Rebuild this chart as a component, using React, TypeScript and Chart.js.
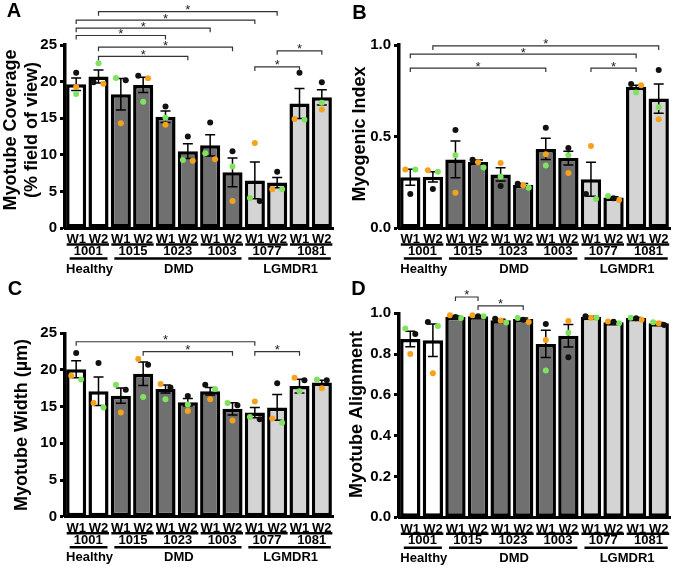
import React, { useEffect, useRef } from 'react';
import { Chart, registerables } from 'chart.js';

Chart.register(...registerables);

// ---------- shared categories ----------
const barLabels = ['W1', 'W2', 'W1', 'W2', 'W1', 'W2', 'W1', 'W2', 'W1', 'W2', 'W1', 'W2'];
const patientIds = ['1001', '1015', '1023', '1003', '1077', '1081'];
const groupNames = ['Healthy', 'DMD', 'LGMDR1'];
const groupPatientCounts = [1, 3, 2];

// ---------- A: Myotube Coverage ----------
const coverageMean = [19.63, 20.7, 18.26, 19.55, 15.2, 10.5, 11.3, 7.6, 6.5, 6.2, 17.0, 17.85];
const coverageSem = [0.85, 0.88, 2.15, 1.05, 0.78, 1.0, 1.45, 1.95, 2.5, 0.7, 2.05, 1.05];
const coverageBlack = [21.2, 19.9, 20.2, 20.8, 16.6, 12.5, 14.4, 10.5, 3.7, 7.7, 21.2, 19.9];
const coverageOrange = [19.26, 19.7, 14.3, 20.45, 14.1, 9.2, 9.4, 3.7, 11.6, 5.3, 14.9, 16.2];
const coverageGreen = [18.3, 22.5, 20.5, 17.25, 15.07, 9.3, 10.2, 8.4, 4.1, 5.3, 14.8, 17.1];
const coverageBrackets: [number, number, number][] = [
  [1, 9, 29.55], [0, 8, 28.4], [0, 6, 27.3], [0, 4, 26.3],
  [1, 7, 24.7], [1, 5, 23.45], [9, 11, 24.2], [8, 10, 22.0],
];

// ---------- B: Myogenic Index ----------
const myogenicMean = [0.277, 0.28, 0.375, 0.36, 0.293, 0.237, 0.432, 0.382, 0.266, 0.166, 0.772, 0.707];
const myogenicSem = [0.044, 0.028, 0.1, 0.012, 0.036, 0.006, 0.058, 0.038, 0.093, 0.005, 0.008, 0.08];
const myogenicBlack = [0.186, 0.213, 0.535, 0.373, 0.23, 0.242, 0.548, 0.437, 0.186, 0.162, 0.787, 0.863];
const myogenicOrange = [0.32, 0.315, 0.193, 0.359, 0.355, 0.233, 0.403, 0.3, 0.448, 0.153, 0.78, 0.594];
const myogenicGreen = [0.32, 0.308, 0.397, 0.33, 0.28, 0.22, 0.342, 0.397, 0.158, 0.175, 0.741, 0.66];
const myogenicBrackets: [number, number, number][] = [
  [1, 11, 0.995], [0, 10, 0.95], [0, 6, 0.874], [8, 10, 0.874],
];

// ---------- C: Myotube Width ----------
const widthMean = [20.1, 17.1, 16.5, 19.5, 17.4, 15.6, 17.1, 14.7, 14.2, 14.9, 17.8, 18.3];
const widthSem = [1.15, 1.95, 1.05, 1.6, 0.55, 0.5, 0.5, 0.85, 0.7, 1.75, 0.95, 0.3];
const widthBlack = [22.3, 20.95, 17.3, 20.7, 17.6, 16.45, 18.0, 15.2, 13.3, 18.2, 18.6, 18.6];
const widthOrange = [19.2, 15.5, 14.2, 21.5, 18.1, 14.4, 16.0, 13.1, 15.7, 13.4, 18.95, 17.5];
const widthGreen = [18.7, 14.9, 18.0, 16.3, 16.0, 15.3, 17.4, 15.5, 13.6, 12.8, 17.1, 18.7];
const widthBrackets: [number, number, number][] = [
  [0, 8, 23.85], [3, 7, 22.5], [8, 10, 22.5],
];

// ---------- D: Myotube Alignment ----------
const alignMean = [0.874, 0.868, 0.983, 0.985, 0.966, 0.972, 0.85, 0.89, 0.983, 0.956, 0.977, 0.951];
const alignSem = [0.038, 0.08, 0.004, 0.002, 0.005, 0.005, 0.067, 0.055, 0.002, 0.003, 0.003, 0.004];
const alignBlack = [0.899, 0.957, 0.982, 0.986, 0.973, 0.968, 0.948, 0.784, 0.985, 0.958, 0.976, 0.943];
const alignOrange = [0.8, 0.706, 0.99, 0.99, 0.965, 0.957, 0.869, 0.962, 0.978, 0.96, 0.968, 0.951];
const alignGreen = [0.926, 0.938, 0.977, 0.985, 0.955, 0.977, 0.719, 0.905, 0.978, 0.951, 0.978, 0.956];
const alignBrackets: [number, number, number][] = [
  [2, 3, 1.08], [3, 5, 1.036],
];

// ---------- styles ----------
const FONT = 'Arial, "Liberation Sans", Helvetica, sans-serif';
const groupFills = ['#ffffff', '#707070', '#d4d4d4'];
const dotColors = ['#111111', '#f7a21b', '#7fe35f'];

type Box = { left: number; top: number; width: number; height: number };
type Area = { left: number; right: number; top: number; bottom: number };
type PanelCfg = {
  letter: string;
  title: string[];
  mean: number[];
  sem: number[];
  reps: number[][];
  brackets: [number, number, number][];
  yMax: number;
  step: number;
  decimals: number;
  box: Box;
  area: Area;
  titleX: number[];
  titleY: number;
  letterPos: [number, number];
};

const panels: PanelCfg[] = [
  {
    letter: 'A', title: ['Myotube Coverage', '(% field of view)'],
    mean: coverageMean, sem: coverageSem, reps: [coverageBlack, coverageOrange, coverageGreen],
    brackets: coverageBrackets, yMax: 25, step: 5, decimals: 0,
    box: { left: 0, top: 0, width: 337, height: 276 },
    area: { left: 65, right: 337, top: 45, bottom: 228 },
    titleX: [11, 32], titleY: 130, letterPos: [14, 11.5],
  },
  {
    letter: 'B', title: ['Myogenic Index'],
    mean: myogenicMean, sem: myogenicSem, reps: [myogenicBlack, myogenicOrange, myogenicGreen],
    brackets: myogenicBrackets, yMax: 1, step: 0.5, decimals: 1,
    box: { left: 337, top: 0, width: 338, height: 276 },
    area: { left: 62, right: 333, top: 45, bottom: 228 },
    titleX: [23.5], titleY: 134, letterPos: [22.5, 13.5],
  },
  {
    letter: 'C', title: ['Myotube Width (µm)'],
    mean: widthMean, sem: widthSem, reps: [widthBlack, widthOrange, widthGreen],
    brackets: widthBrackets, yMax: 25, step: 5, decimals: 0,
    box: { left: 0, top: 276, width: 337, height: 293 },
    area: { left: 65, right: 337, top: 57.3, bottom: 240.7 },
    titleX: [22.5], titleY: 149, letterPos: [15, 13],
  },
  {
    letter: 'D', title: ['Myotube Alignment'],
    mean: alignMean, sem: alignSem, reps: [alignBlack, alignOrange, alignGreen],
    brackets: alignBrackets, yMax: 1, step: 0.2, decimals: 1,
    box: { left: 337, top: 276, width: 338, height: 293 },
    area: { left: 62, right: 333, top: 37.3, bottom: 241.3 },
    titleX: [20.5], titleY: 138.5, letterPos: [21.5, 13],
  },
];

// spread replicate dots that would overlap (beeswarm-like), offsets in category units
function jitter(reps: number[][], bar: number, pxPerUnit: number, catPx: number): number[] {
  const pts = reps.map((r, k) => ({ k, y: r[bar] * pxPerUnit }));
  pts.sort((a, b) => b.y - a.y);
  const out = new Array(reps.length).fill(0);
  let i = 0;
  while (i < pts.length) {
    let j = i + 1;
    while (j < pts.length && pts[j - 1].y - pts[j].y < 6) j++;
    const n = j - i;
    const s = n === 2 ? 10 : 5.5;
    for (let m = 0; m < n; m++) out[pts[i + m].k] = ((m - (n - 1) / 2) * s) / catPx;
    i = j;
  }
  return out;
}

function groupFillPerBar(): string[] {
  const fills: string[] = [];
  groupPatientCounts.forEach((c, g) => {
    for (let i = 0; i < c * 2; i++) fills.push(groupFills[g]);
  });
  return fills;
}

function PanelChart({ cfg }: { cfg: PanelCfg }) {
  const ref = useRef<HTMLCanvasElement | null>(null);
  useEffect(() => {
    const canvas = ref.current;
    if (!canvas) return;
    const { area, box } = cfg;
    const pxPerUnit = (area.bottom - area.top) / cfg.yMax;
    const catPx = (area.right - area.left) / barLabels.length;
    const offs = barLabels.map((_, i) => jitter(cfg.reps, i, pxPerUnit, catPx));

    const errorBars = {
      id: 'errorBars',
      afterDatasetDraw(chart: any, args: any) {
        if (args.index !== 0) return;
        const ctx = chart.ctx;
        const xs = chart.scales.x;
        const ys = chart.scales.y;
        ctx.save();
        ctx.strokeStyle = '#000';
        ctx.lineWidth = 1.5;
        cfg.mean.forEach((m, i) => {
          const x = xs.getPixelForValue(i);
          const yt = ys.getPixelForValue(m + cfg.sem[i]);
          const yb = ys.getPixelForValue(m - cfg.sem[i]);
          ctx.beginPath();
          ctx.moveTo(x, yt);
          ctx.lineTo(x, yb);
          ctx.moveTo(x - 5, yt);
          ctx.lineTo(x + 5, yt);
          ctx.moveTo(x - 5, yb);
          ctx.lineTo(x + 5, yb);
          ctx.stroke();
        });
        ctx.restore();
      },
    };

    const decorations = {
      id: 'decorations',
      afterDraw(chart: any) {
        const ctx = chart.ctx;
        const xs = chart.scales.x;
        const ys = chart.scales.y;
        const base = chart.chartArea.bottom;
        ctx.save();
        // brackets
        ctx.strokeStyle = '#333';
        ctx.fillStyle = '#222';
        ctx.lineWidth = 1.2;
        ctx.font = `13px ${FONT}`;
        ctx.textAlign = 'center';
        ctx.textBaseline = 'alphabetic';
        cfg.brackets.forEach(([a, b, lvl]) => {
          const x1 = xs.getPixelForValue(a);
          const x2 = xs.getPixelForValue(b);
          const y = ys.getPixelForValue(lvl);
          ctx.beginPath();
          ctx.moveTo(x1, y + 4);
          ctx.lineTo(x1, y);
          ctx.lineTo(x2, y);
          ctx.lineTo(x2, y + 4);
          ctx.stroke();
          ctx.fillText('*', (x1 + x2) / 2, y + 2.5);
        });
        // patient ids & group labels
        ctx.fillStyle = '#000';
        ctx.strokeStyle = '#000';
        ctx.lineWidth = 2.5;
        ctx.font = `bold 13px ${FONT}`;
        ctx.textBaseline = 'middle';
        patientIds.forEach((id, p) => {
          const x1 = xs.getPixelForValue(2 * p);
          const x2 = xs.getPixelForValue(2 * p + 1);
          ctx.beginPath();
          ctx.moveTo(x1 - 9.5, base + 16.5);
          ctx.lineTo(x2 + 10.5, base + 16.5);
          ctx.stroke();
          ctx.fillText(id, (x1 + x2) / 2 + 1, base + 23.5);
        });
        let start = 0;
        groupNames.forEach((g, gi) => {
          const n = groupPatientCounts[gi] * 2;
          const xa = xs.getPixelForValue(start) - 6.5;
          const xb = xs.getPixelForValue(start + n - 1) + 9;
          ctx.beginPath();
          ctx.moveTo(xa, base + 30.5);
          ctx.lineTo(xb, base + 30.5);
          ctx.stroke();
          ctx.fillText(g, (xa + xb) / 2 + 1, base + 41);
          start += n;
        });
        // axis title
        ctx.font = `bold 18px ${FONT}`;
        cfg.title.forEach((t, k) => {
          ctx.save();
          ctx.translate(cfg.titleX[k], cfg.titleY);
          ctx.rotate(-Math.PI / 2);
          ctx.textAlign = 'center';
          ctx.textBaseline = 'middle';
          ctx.fillText(t, 0, 0);
          ctx.restore();
        });
        // panel letter
        ctx.font = `bold 20px ${FONT}`;
        ctx.textAlign = 'center';
        ctx.textBaseline = 'middle';
        ctx.fillText(cfg.letter, cfg.letterPos[0], cfg.letterPos[1]);
        ctx.restore();
      },
    };

    const chart = new Chart(canvas, {
      type: 'bar',
      data: {
        labels: barLabels,
        datasets: [
          {
            type: 'bar',
            data: cfg.mean,
            backgroundColor: groupFillPerBar(),
            borderColor: '#000',
            borderWidth: 3.5,
            borderSkipped: false,
            barPercentage: 0.9,
            categoryPercentage: 1,
            grouped: false,
            xAxisID: 'x',
            yAxisID: 'y',
            order: 2,
          } as any,
          ...cfg.reps.map((r, k) => ({
            type: 'scatter',
            data: r.map((v, i) => ({ x: i + offs[i][k], y: v })),
            xAxisID: 'xj',
            yAxisID: 'y',
            backgroundColor: dotColors[k],
            borderWidth: 0,
            pointRadius: 3,
            clip: false,
            order: 0,
          } as any)),
        ],
      },
      options: {
        animation: false,
        responsive: false,
        devicePixelRatio: 1,
        events: [],
        layout: {
          padding: { top: area.top, left: 0, right: box.width - area.right, bottom: 0 },
        },
        plugins: { legend: { display: false }, tooltip: { enabled: false } },
        scales: {
          x: {
            type: 'category',
            offset: true,
            grid: { display: false, drawTicks: false },
            border: { display: true, width: 3, color: '#000' },
            ticks: {
              color: '#000',
              font: { family: FONT, size: 13, weight: 'bold' },
              padding: 4,
              maxRotation: 0,
              autoSkip: false,
            },
            afterFit: (s: any) => { s.height = box.height - area.bottom; },
          },
          xj: {
            type: 'linear',
            display: false,
            offset: false,
            bounds: 'ticks',
            grace: 0,
            min: -0.5,
            max: barLabels.length - 0.5,
          },
          y: {
            type: 'linear',
            min: 0,
            max: cfg.yMax,
            border: { display: true, width: 3.5, color: '#000' },
            grid: { display: true, drawOnChartArea: false, drawTicks: true, tickLength: 5, tickWidth: 3, color: '#000' },
            ticks: {
              stepSize: cfg.step,
              color: '#000',
              padding: 3,
              font: { family: FONT, size: 15, weight: 'bold' },
              callback: (v: any) => Number(v).toFixed(cfg.decimals),
            },
            afterFit: (s: any) => { s.width = area.left; },
          },
        } as any,
      },
      plugins: [errorBars, decorations],
    } as any);
    return () => chart.destroy();
  }, [cfg]);

  return (
    <canvas
      ref={ref}
      width={cfg.box.width}
      height={cfg.box.height}
      style={{ position: 'absolute', left: cfg.box.left, top: cfg.box.top, width: cfg.box.width, height: cfg.box.height }}
    />
  );
}

export default function App() {
  return (
    <div style={{ position: 'absolute', left: 0, top: 0, width: 675, height: 569, background: '#fff', overflow: 'hidden' }}>
      {panels.map((p) => (
        <PanelChart key={p.letter} cfg={p} />
      ))}
    </div>
  );
}
